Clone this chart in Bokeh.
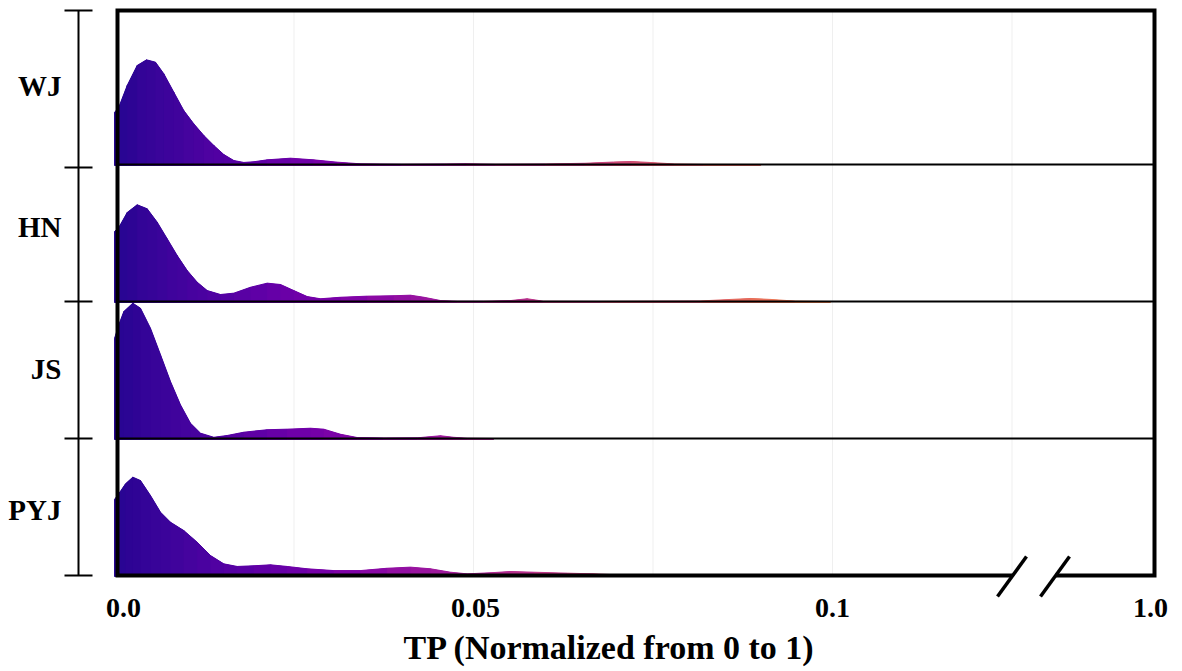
from bokeh.plotting import figure
from bokeh.models import ColumnDataSource, Range1d
from bokeh.core.properties import value
from bokeh.embed import file_html
from bokeh.resources import INLINE
from bokeh.palettes import Plasma256

# ---------------- data ----------------
categories = ["WJ", "HN", "JS", "PYJ"]

wj_x = [0.0, 0.0006, 0.00177, 0.00316, 0.00446, 0.00571, 0.00687, 0.00826, 0.00965, 0.01104,
        0.01244, 0.01383, 0.01522, 0.01662, 0.01801, 0.0194, 0.02127, 0.02451, 0.02772, 0.03102,
        0.03426, 0.040, 0.046, 0.049, 0.053, 0.060, 0.0655, 0.0695, 0.072, 0.0745, 0.078, 0.082, 0.090]
wj_d = [0.380, 0.418, 0.577, 0.723, 0.764, 0.747, 0.662, 0.528, 0.394, 0.297,
        0.212, 0.139, 0.073, 0.029, 0.015, 0.020, 0.034, 0.046, 0.034, 0.017,
        0.005, 0.002, 0.004, 0.006, 0.002, 0.004, 0.009, 0.018, 0.022, 0.015, 0.004, 0.001, 0.0]

hn_x = [0.0, 0.0006, 0.00177, 0.00316, 0.00455, 0.00595, 0.00734, 0.00873, 0.01013, 0.01152,
        0.01291, 0.01476, 0.01662, 0.01894, 0.02127, 0.02312, 0.02497, 0.02684, 0.02869, 0.03148,
        0.0352, 0.0389, 0.04123, 0.04308, 0.0454, 0.04773, 0.0514, 0.0552, 0.05748, 0.05975,
        0.0677, 0.0816, 0.0858, 0.0886, 0.0914, 0.0948, 0.0997]
hn_d = [0.511, 0.540, 0.650, 0.706, 0.677, 0.579, 0.458, 0.336, 0.226, 0.141,
        0.080, 0.051, 0.061, 0.104, 0.134, 0.124, 0.080, 0.036, 0.020, 0.031,
        0.039, 0.042, 0.046, 0.031, 0.007, 0.002, 0.002, 0.007, 0.020, 0.002,
        0.001, 0.004, 0.015, 0.022, 0.015, 0.003, 0.0]

js_x = [0.0, 0.0006, 0.0013, 0.00255, 0.00362, 0.00501, 0.00641, 0.0078, 0.00919, 0.01058,
        0.01198, 0.01383, 0.0157, 0.01801, 0.02127, 0.02405, 0.0273, 0.02915, 0.03148, 0.0338,
        0.03747, 0.04216, 0.0454, 0.04721, 0.04912, 0.05279]
js_d = [0.730, 0.830, 0.927, 0.988, 0.951, 0.805, 0.611, 0.416, 0.246, 0.112,
        0.039, 0.009, 0.022, 0.046, 0.064, 0.068, 0.075, 0.068, 0.031, 0.007,
        0.004, 0.005, 0.020, 0.009, 0.002, 0.0]

pyj_x = [0.0, 0.00074, 0.00153, 0.00255, 0.00362, 0.00501, 0.00641, 0.0078, 0.00965, 0.01152,
         0.01337, 0.01522, 0.01709, 0.0194, 0.02173, 0.02405, 0.02684, 0.03054, 0.03426, 0.03798,
         0.04123, 0.04401, 0.0468, 0.04912, 0.05237, 0.05515, 0.0584, 0.06305, 0.06671, 0.07047,
         0.08162, 0.09415, 0.09596, 0.09833, 0.10947, 0.11295, 0.11643]
pyj_d = [0.555, 0.608, 0.669, 0.718, 0.693, 0.584, 0.462, 0.389, 0.328, 0.243,
         0.146, 0.085, 0.066, 0.071, 0.078, 0.066, 0.049, 0.036, 0.036, 0.053,
         0.061, 0.049, 0.024, 0.012, 0.020, 0.029, 0.024, 0.017, 0.012, 0.004,
         0.001, 0.003, 0.007, 0.002, 0.001, 0.006, 0.0]

series_x = {"WJ": wj_x, "HN": hn_x, "JS": js_x, "PYJ": pyj_x}
series_d = {"WJ": wj_d, "HN": hn_d, "JS": js_d, "PYJ": pyj_d}

tick_values = [0.0, 0.05, 0.1, 1.0]
tick_labels = ["0.0", "0.05", "0.1", "1.0"]
grid_values = [0.025, 0.05, 0.075, 0.1, 0.125]
x_title = "TP (Normalized from 0 to 1)"

# ---------------- layout helpers ----------------
W, H = 1180, 668
ORIGIN = 0.0           # page pixel where the canvas starts
PX_PER_X = 7180.0      # horizontal pixels per TP unit (before the break)
X0_PX = 114.0          # page pixel of TP = 0
PX_PER_ROW = 137.0     # vertical pixels per ridge row
BASE_PX = 575.0        # page pixel of the lowest baseline


def fx(px):
    return (px - X0_PX) / PX_PER_X


def fy(py):
    return (BASE_PX - py) / PX_PER_ROW


BREAK_AT = 0.13


def disp(v):
    """broken x axis: values beyond the break are squeezed to the right end"""
    if v <= BREAK_AT:
        return v
    return fx(1150) - (1.0 - v) * 0.05


row_base = {"PYJ": 0.0, "JS": 1.0, "HN": 2.0, "WJ": 3.0}
label_y = {"WJ": fy(85), "HN": fy(226), "JS": fy(368), "PYJ": fy(509)}

p = figure(width=W, height=H,
           x_range=Range1d(fx(ORIGIN), fx(ORIGIN + W)),
           y_range=Range1d(fy(ORIGIN + H), fy(ORIGIN)),
           output_backend="svg", toolbar_location=None,
           x_axis_location=None, y_axis_location=None,
           min_border=0)
p.min_border_left = p.min_border_right = p.min_border_top = p.min_border_bottom = 0
p.outline_line_color = None
p.grid.visible = False
p.background_fill_color = "white"

top_y = fy(10)
left_x = fx(117)
right_x = fx(1154)

# faint vertical grid lines
p.segment(x0=[disp(g) for g in grid_values], x1=[disp(g) for g in grid_values],
          y0=[0] * len(grid_values), y1=[top_y] * len(grid_values),
          line_color="#efefef", line_width=1)

# gradient-filled ridges: one trapezoid strip per pair of consecutive points
for cat in ["PYJ", "JS", "HN", "WJ"]:
    xs, ds = series_x[cat], series_d[cat]
    base = row_base[cat]
    pxs, pys, cols = [], [], []
    for i in range(len(xs) - 1):
        x0, x1 = disp(xs[i]), disp(xs[i + 1])
        pxs.append([x0, x1, x1, x0])
        pys.append([base - 0.007, base - 0.007, base + ds[i + 1], base + ds[i]])
        t = 0.04 + 0.5 * (xs[i] + xs[i + 1]) / 0.15
        t = min(max(t, 0.0), 1.0)
        cols.append(Plasma256[int(round(t * 255))])
    src = ColumnDataSource(dict(xs=pxs, ys=pys, c=cols))
    # under-layer (outlined) hides the anti-aliased seams of the top layer
    p.patches("xs", "ys", source=src, fill_color="c", line_color="c", line_width=1.0)
    p.patches("xs", "ys", source=src, fill_color="c", line_color=None)

# ridge baselines
for cat in ["JS", "HN", "WJ"]:
    b = row_base[cat]
    p.line([left_x, right_x], [b, b], line_color="black", line_width=2)

# frame with a gap for the axis break
p.line([fx(1012), left_x, left_x, right_x, right_x, fx(1055)],
       [0, 0, top_y, top_y, 0, 0],
       line_color="black", line_width=4, line_join="miter")
p.segment(x0=[fx(997), fx(1040)], y0=[fy(596), fy(596)],
          x1=[fx(1026), fx(1069)], y1=[fy(556), fy(556)],
          line_color="black", line_width=3.5)

# separate left axis with category ticks
ax_x = fx(78)
p.line([ax_x, ax_x], [0, top_y], line_color="black", line_width=2)
tick_ys = [0.0, 1.0, 2.0, fy(167), top_y]
p.segment(x0=[fx(64)] * len(tick_ys), x1=[fx(92)] * len(tick_ys),
          y0=tick_ys, y1=tick_ys, line_color="black", line_width=2)

font = value("Liberation Serif")
p.text(x=[fx(61)] * len(categories), y=[label_y[c] for c in categories], text=categories,
       text_font=font, text_font_style="bold", text_font_size=value("29px"),
       text_align="right", text_baseline="middle", text_color="black")

# x tick labels
tick_src = ColumnDataSource(dict(x=[disp(v) for v in tick_values],
                                 y=[fy(607)] * len(tick_values),
                                 t=tick_labels,
                                 dx=[9, 2, 0, 0]))
p.text(x="x", y="y", text="t", x_offset="dx", source=tick_src,
       text_font=font, text_font_style="bold", text_font_size=value("28px"),
       text_align="center", text_baseline="middle", text_color="black")

# x axis title
p.text(x=[fx(609)], y=[fy(647)], text=[x_title],
       text_font=font, text_font_style="bold", text_font_size=value("34px"),
       text_align="center", text_baseline="middle", text_color="black")

open("out.html", "w").write(file_html(p, INLINE))
